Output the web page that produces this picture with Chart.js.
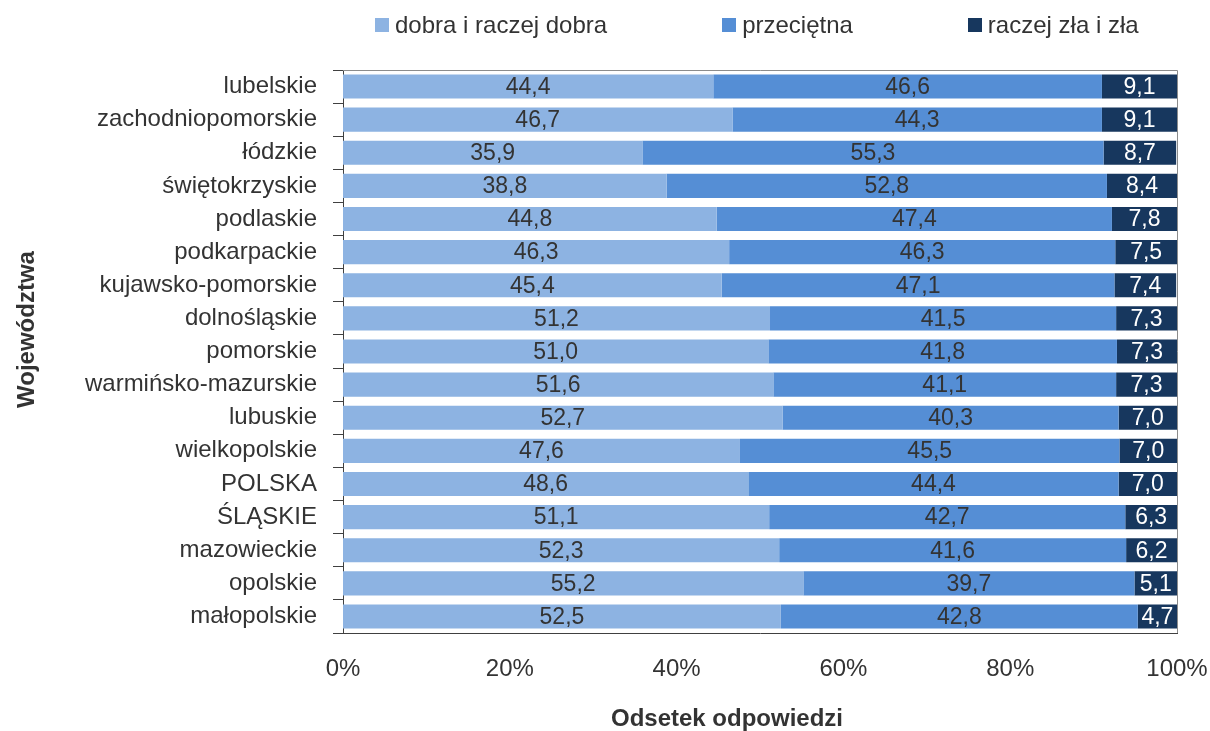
<!DOCTYPE html>
<html lang="pl">
<head>
<meta charset="utf-8">
<title>Województwa</title>
<script src="https://cdn.jsdelivr.net/npm/chart.js@4.4.1/dist/chart.umd.min.js"></script>
<style>
  body { margin: 0; background: #fff; }
  #wrap { position: relative; width: 1210px; height: 731px; }
  #legend {
    position: absolute; top: 11px; left: 375px;
    display: flex; gap: 115px;
    font: 24px "Liberation Sans", Arial, sans-serif; color: #333;
  }
  .lg-item { display: flex; align-items: center; }
  .lg-box { width: 14px; height: 14px; margin-right: 6px; }
</style>
</head>
<body>
<div id="wrap">
  <canvas id="chart" width="1210" height="731"></canvas>
  <div id="legend"></div>
</div>
<script>
const CATEGORIES = [
  'lubelskie', 'zachodniopomorskie', 'łódzkie', 'świętokrzyskie', 'podlaskie',
  'podkarpackie', 'kujawsko-pomorskie', 'dolnośląskie', 'pomorskie',
  'warmińsko-mazurskie', 'lubuskie', 'wielkopolskie', 'POLSKA', 'ŚLĄSKIE',
  'mazowieckie', 'opolskie', 'małopolskie'
];
const SERIES_LABELS = ['dobra i raczej dobra', 'przeciętna', 'raczej zła i zła'];
const GOOD    = [44.4, 46.7, 35.9, 38.8, 44.8, 46.3, 45.4, 51.2, 51.0, 51.6, 52.7, 47.6, 48.6, 51.1, 52.3, 55.2, 52.5];
const AVERAGE = [46.6, 44.3, 55.3, 52.8, 47.4, 46.3, 47.1, 41.5, 41.8, 41.1, 40.3, 45.5, 44.4, 42.7, 41.6, 39.7, 42.8];
const BAD     = [9.1, 9.1, 8.7, 8.4, 7.8, 7.5, 7.4, 7.3, 7.3, 7.3, 7.0, 7.0, 7.0, 6.3, 6.2, 5.1, 4.7];
const X_TICKS = [0, 20, 40, 60, 80, 100];

const COLORS       = ['#8db3e2', '#558ed5', '#17375e'];
const LABEL_COLORS = ['#333333', '#333333', '#ffffff'];
const FONT = '"Liberation Sans", Arial, sans-serif';

// legend as html above the plot
document.getElementById('legend').innerHTML = SERIES_LABELS.map((l, i) => `
  <div class="lg-item"><span class="lg-box" style="background:${COLORS[i]}"></span>${l}</div>
`).join('');

// values written in the middle of each segment
const segmentLabels = {
  id: 'segmentLabels',
  afterDatasetsDraw(chart) {
    const ctx = chart.ctx;
    ctx.save();
    ctx.font = `23px ${FONT}`;
    ctx.textAlign = 'center';
    ctx.textBaseline = 'middle';
    chart.data.datasets.forEach((ds, di) => {
      chart.getDatasetMeta(di).data.forEach((bar, i) => {
        const { x, y, base } = bar.getProps(['x', 'y', 'base'], true);
        const right = Math.min(x, chart.chartArea.right);
        ctx.fillStyle = LABEL_COLORS[di];
        ctx.fillText(ds.data[i].toFixed(1).replace('.', ','), (right + base) / 2, y + 1);
      });
    });
    ctx.restore();
  }
};

// grey frame on top and right, axis titles
const frame = {
  id: 'frame',
  afterDraw(chart) {
    const { ctx, chartArea: a } = chart;
    ctx.save();
    ctx.strokeStyle = '#8c8c8c';
    ctx.lineWidth = 1;
    ctx.beginPath();
    ctx.moveTo(a.left, a.top + 0.5);
    ctx.lineTo(a.right + 0.5, a.top + 0.5);
    ctx.lineTo(a.right + 0.5, a.bottom);
    ctx.stroke();

    ctx.fillStyle = '#333';
    ctx.font = `bold 24px ${FONT}`;
    ctx.textAlign = 'center';
    ctx.textBaseline = 'middle';
    ctx.fillText('Odsetek odpowiedzi', a.left + (a.right - a.left) / 2 - 33, a.bottom + 86);
    ctx.translate(27, a.top + (a.bottom - a.top) / 2 - 22);
    ctx.rotate(-Math.PI / 2);
    ctx.fillText('Województwa', 0, 0);
    ctx.restore();
  }
};

new Chart(document.getElementById('chart'), {
  type: 'bar',
  plugins: [segmentLabels, frame],
  data: {
    labels: CATEGORIES,
    datasets: [GOOD, AVERAGE, BAD].map((d, i) => ({
      label: SERIES_LABELS[i],
      data: d,
      backgroundColor: COLORS[i],
      borderWidth: 0,
      barPercentage: 0.8,
      categoryPercentage: 0.91,
    })),
  },
  options: {
    indexAxis: 'y',
    responsive: false,
    devicePixelRatio: 1,
    animation: false,
    layout: { padding: { left: 43, right: 33, top: 70, bottom: 0 } },
    plugins: {
      legend: { display: false },
      tooltip: { enabled: false },
    },
    scales: {
      x: {
        stacked: true,
        min: 0,
        max: 100,
        afterBuildTicks: s => { s.ticks = X_TICKS.map(v => ({ value: v })); },
        afterFit: s => { s.height = 98; s.paddingLeft = 0; s.paddingRight = 0; },
        ticks: {
          padding: 14,
          color: '#333',
          font: { family: FONT, size: 24 },
          callback: v => `${v}%`,
        },
        grid: { display: false },
        border: { display: true, color: '#404040', width: 1 },
      },
      y: {
        stacked: true,
        afterFit: s => { s.width = 300; },
        ticks: {
          autoSkip: false,
          padding: 16,
          color: '#333',
          font: { family: FONT, size: 24 },
        },
        grid: { drawOnChartArea: false, drawTicks: true, tickLength: 10, color: '#404040' },
        border: { display: true, color: '#404040', width: 1 },
      },
    },
  },
});
</script>
</body>
</html>
